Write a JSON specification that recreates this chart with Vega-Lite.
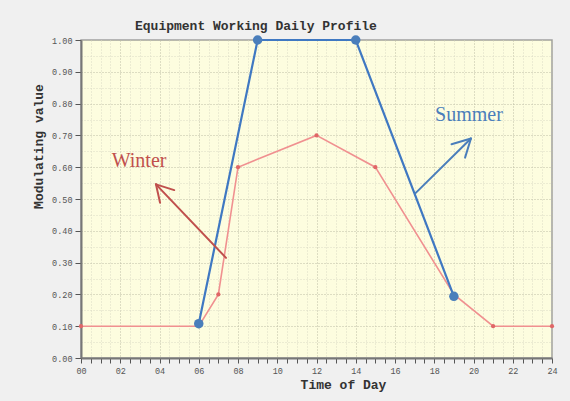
{
  "$schema": "https://vega.github.io/schema/vega-lite/v6.json",
  "width": 471,
  "height": 318,
  "autosize": {"type": "none"},
  "padding": {"left": 81, "top": 40, "right": 18, "bottom": 43},
  "background": "#f0f0f0",
  "title": {
    "text": "Equipment Working Daily Profile",
    "anchor": "start",
    "frame": "group",
    "dx": 54,
    "offset": 2,
    "font": "Liberation Mono",
    "fontSize": 13,
    "fontWeight": "bold",
    "color": "#333333"
  },
  "config": {
    "view": {"fill": "#fdfddf", "stroke": "#a0a0a0", "strokeWidth": 1.5}
  },
  "datasets": {
    "winter": [
      {"hour": 0, "value": 0.1},
      {"hour": 6, "value": 0.1},
      {"hour": 7, "value": 0.2},
      {"hour": 8, "value": 0.6},
      {"hour": 12, "value": 0.7},
      {"hour": 15, "value": 0.6},
      {"hour": 19, "value": 0.2},
      {"hour": 21, "value": 0.1},
      {"hour": 24, "value": 0.1}
    ],
    "summer": [
      {"hour": 6, "value": 0.108},
      {"hour": 9, "value": 1.0},
      {"hour": 14, "value": 1.0},
      {"hour": 19, "value": 0.194}
    ],
    "arrows": [
      {"label": "Winter", "hour": 7.39, "value": 0.315, "hour2": 3.82, "value2": 0.546},
      {"label": "Winter", "hour": 3.82, "value": 0.546, "hour2": 4.75, "value2": 0.528},
      {"label": "Winter", "hour": 3.82, "value": 0.546, "hour2": 4.03, "value2": 0.488},
      {"label": "Summer", "hour": 17.02, "value": 0.517, "hour2": 19.87, "value2": 0.69},
      {"label": "Summer", "hour": 19.87, "value": 0.69, "hour2": 18.88, "value2": 0.672},
      {"label": "Summer", "hour": 19.87, "value": 0.69, "hour2": 19.57, "value2": 0.63}
    ],
    "labels": [
      {"label": "Winter", "hour": 2.96, "value": 0.601},
      {"label": "Summer", "hour": 19.77, "value": 0.745}
    ]
  },
  "encoding": {
    "x": {
      "field": "hour",
      "type": "quantitative",
      "scale": {"domain": [0, 24], "nice": false, "zero": false},
      "axis": {
        "title": "Time of Day",
        "titleFont": "Liberation Mono",
        "titleFontSize": 13,
        "titleFontWeight": "bold",
        "titleColor": "#333333",
        "titleX": 262,
        "titleY": 30,
        "titleAlign": "center",
        "titleBaseline": "alphabetic",
        "values": [0,0.5,1,1.5,2,2.5,3,3.5,4,4.5,5,5.5,6,6.5,7,7.5,8,8.5,9,9.5,10,10.5,11,11.5,12,12.5,13,13.5,14,14.5,15,15.5,16,16.5,17,17.5,18,18.5,19,19.5,20,20.5,21,21.5,22,22.5,23,23.5,24],
        "labelExpr": "datum.value % 2 === 0 ? (datum.value < 10 ? '0' + datum.value : '' + datum.value) : ''",
        "labelFont": "Liberation Mono",
        "labelFontSize": 8.5,
        "labelColor": "#555555",
        "labelPadding": 3,
        "labelFlush": false,
        "labelOverlap": false,
        "tickSize": 5,
        "tickColor": "#555555",
        "domainColor": "#777777",
        "domainWidth": 2,
        "grid": true,
        "gridDash": [1, 2],
        "gridColor": {"condition": {"test": "datum.value % 2 === 0", "value": "#bcbca4"}, "value": "#dadac4"},
        "gridWidth": 1
      }
    },
    "y": {
      "field": "value",
      "type": "quantitative",
      "scale": {"domain": [0, 1], "nice": false},
      "axis": {
        "title": "Modulating value",
        "titleFont": "Liberation Mono",
        "titleFontSize": 13,
        "titleFontWeight": "bold",
        "titleColor": "#333333",
        "titleX": -43,
        "titleY": 106,
        "titleAlign": "center",
        "titleBaseline": "middle",
        "values": [0,0.05,0.1,0.15,0.2,0.25,0.3,0.35,0.4,0.45,0.5,0.55,0.6,0.65,0.7,0.75,0.8,0.85,0.9,0.95,1],
        "labelExpr": "round(datum.value * 100) % 10 === 0 ? format(datum.value, '.2f') : ''",
        "labelFont": "Liberation Mono",
        "labelFontSize": 8.5,
        "labelColor": "#555555",
        "labelPadding": 3,
        "labelFlush": false,
        "labelOverlap": false,
        "tickSize": 6,
        "tickColor": "#555555",
        "tickOpacity": {"condition": {"test": "round(datum.value * 100) % 10 === 0", "value": 1}, "value": 0},
        "domainColor": "#777777",
        "domainWidth": 2,
        "grid": true,
        "gridDash": [1, 2],
        "gridColor": {"condition": {"test": "round(datum.value * 100) % 10 === 0", "value": "#bcbca4"}, "value": "#dadac4"},
        "gridWidth": 1
      }
    }
  },
  "layer": [
    {
      "data": {"name": "winter"},
      "mark": {"type": "line", "color": "#f09090", "strokeWidth": 1.6}
    },
    {
      "data": {"name": "winter"},
      "mark": {"type": "point", "filled": true, "color": "#e06666", "size": 18, "opacity": 1}
    },
    {
      "data": {"name": "summer"},
      "mark": {"type": "line", "color": "#3f78c2", "strokeWidth": 2.2}
    },
    {
      "data": {"name": "summer"},
      "mark": {"type": "point", "filled": true, "color": "#4a7ebb", "size": 90, "opacity": 1}
    },
    {
      "data": {"name": "arrows"},
      "mark": {"type": "rule", "strokeWidth": 2, "strokeCap": "round"},
      "encoding": {
        "x2": {"field": "hour2"},
        "y2": {"field": "value2"},
        "color": {"condition": {"test": "datum.label === 'Winter'", "value": "#c0504d"}, "value": "#4a7ebb"}
      }
    },
    {
      "data": {"name": "labels"},
      "mark": {"type": "text", "font": "Liberation Serif", "fontSize": 20, "align": "center", "baseline": "alphabetic"},
      "encoding": {
        "text": {"field": "label"},
        "color": {"condition": {"test": "datum.label === 'Winter'", "value": "#c0504d"}, "value": "#4a7ebb"}
      }
    }
  ]
}
